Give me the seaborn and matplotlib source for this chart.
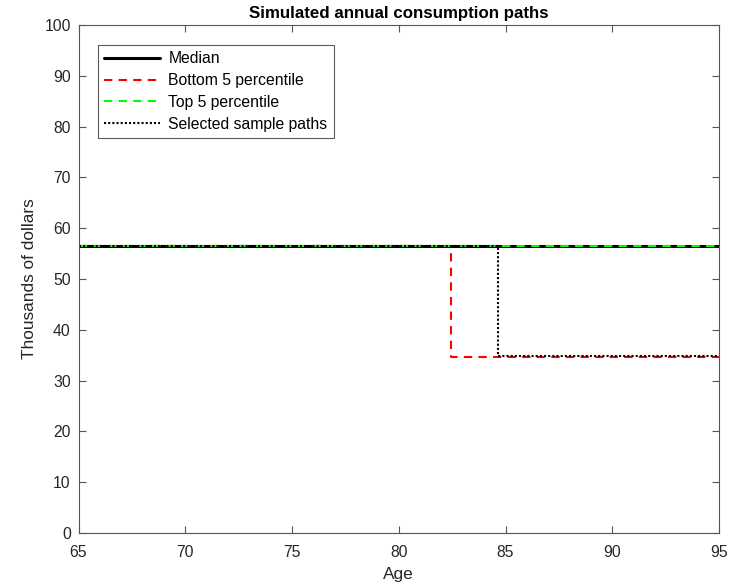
import matplotlib
matplotlib.use("Agg")
import matplotlib.pyplot as plt
import seaborn as sns
import pandas as pd

# Data
median_age = [65, 95]
median_val = [56.5, 56.5]

bottom_age = [65, 82.45, 82.45, 95]
bottom_val = [56.5, 56.5, 34.7, 34.7]

top_age = [65, 95]
top_val = [56.5, 56.5]

sample_age = [65, 84.65, 84.65, 95]
sample_val = [56.5, 56.5, 34.8, 34.8]

sns.set_style("white")
plt.rcParams['font.family'] = ['Liberation Sans', 'DejaVu Sans']

fig = plt.figure(figsize=(7.35, 5.88), dpi=100)
ax = fig.add_axes([78.5/735, 1-533/588, (719-78.5)/735, (533-25)/588])

def draw(x, y, label, **kw):
    df = pd.DataFrame({"Age": x, "val": y})
    sns.lineplot(data=df, x="Age", y="val", ax=ax, estimator=None, sort=False,
                 label=label, **kw)

draw(median_age, median_val, "Median", color="black", linewidth=2.2, linestyle="-")
draw(bottom_age, bottom_val, "Bottom 5 percentile", color="red", linewidth=1.5,
     dashes=False, linestyle=(0, (4, 3)))
draw(top_age, top_val, "Top 5 percentile", color="#00ff00", linewidth=1.5,
     dashes=False, linestyle=(0, (4, 3)))
draw(sample_age, sample_val, "Selected sample paths", color="black", linewidth=1.5,
     dashes=False, linestyle=(0, (1, 1)))

ax.set_xlim(65, 95)
ax.set_ylim(0, 100)
ax.set_xticks(range(65, 96, 5))
ax.set_yticks(range(0, 101, 10))

gray = "#262626"
for s in ax.spines.values():
    s.set_visible(True)
    s.set_color("#555555")
    s.set_linewidth(0.8)
ax.tick_params(direction="in", length=5, width=0.8, color="#555555",
               top=True, right=True, labelsize=11.3, labelcolor=gray,
               bottom=True, left=True)
ax.tick_params(axis="x", pad=8.5)
ax.tick_params(axis="y", pad=5.5)

ax.set_xlabel("Age", fontsize=12.4, color=gray, labelpad=5.5)
ax.set_ylabel("Thousands of dollars", fontsize=12.4, color=gray, labelpad=5)
ax.set_title("Simulated annual consumption paths", fontsize=12.2, fontweight="bold",
             color="black", pad=5)

leg = ax.legend(loc="upper left", bbox_to_anchor=(0.030, 0.9606), fontsize=11.3,
                handlelength=3.6, handletextpad=0.5, labelspacing=0.43,
                frameon=True, fancybox=False, borderpad=0.4, borderaxespad=0)
leg.get_frame().set_edgecolor("#333333")
leg.get_frame().set_linewidth(0.8)
for t in leg.get_texts():
    t.set_color("black")

fig.savefig("out.png", dpi=100)
